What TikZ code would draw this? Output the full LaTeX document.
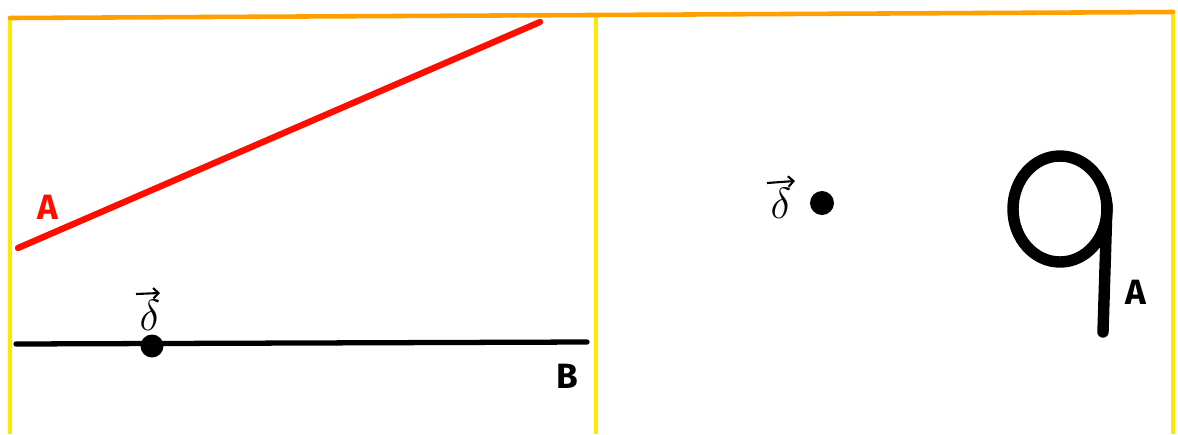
\documentclass[tikz,border=0pt]{standalone}
\usepackage{fontspec}
\setmainfont{Fira Sans}
\usetikzlibrary{arrows.meta}
\begin{document}
\begin{tikzpicture}[x=0.02cm,y=-0.02cm,
  frame/.style={draw=yellow!90!orange,line width=2.2pt},
  topedge/.style={draw=orange!75!yellow,line width=2.6pt,line cap=round},
  redline/.style={draw=red!90!orange,line width=3.6pt,line cap=round},
  blackline/.style={draw=black,line width=3pt,line cap=round},
  dot/.style={circle,fill=black,inner sep=0pt,minimum size=#1},
  lbl/.style={font=\fontsize{20}{22}\selectfont\bfseries,inner sep=0pt},
  vec/.style={font=\fontsize{24}{26}\selectfont,inner sep=0pt},
  vecarrow/.style={line width=1.2pt,-{Straight Barb[length=3pt,width=6pt]}}]
\useasboundingbox (0,0) rectangle (1178,434);
% frame
\coordinate (tl) at (10,18);
\coordinate (tm) at (596,15);
\coordinate (tr) at (1173,12);
\coordinate (bl) at (10,434);
\coordinate (bm) at (596,434);
\coordinate (br) at (1173,434);
\draw[frame] (tl) -- (bl);
\draw[frame] (tm) -- (bm);
\draw[frame] (tr) -- (br);
\draw[topedge] (tl) -- (tr);
% left panel
\coordinate (a1) at (18,248);
\coordinate (a2) at (540,22);
\draw[redline] (a1) -- (a2);
\node[lbl,text=red!90!orange] (A1) at (48,207) {A};
\coordinate (b1) at (16,344);
\coordinate (b2) at (587,342);
\draw[blackline] (b1) -- (b2);
\node[dot=0.46cm] (p1) at (152,346) {};
\node[vec] (v1) at (150,315) {$\delta$};
\coordinate (v1a) at (136,294);
\coordinate (v1b) at (160,293);
\draw[vecarrow] (v1a) -- (v1b);
\node[lbl] (B) at (567,376) {B};
% right panel
\node[dot=0.48cm] (p2) at (822,203) {};
\node[vec] (v2) at (781,203) {$\delta$};
\coordinate (v2a) at (767,183);
\coordinate (v2b) at (795,181);
\draw[vecarrow] (v2a) -- (v2b);
\draw[line width=6.5pt] (1060,209) ellipse [x radius=47, y radius=53];
\coordinate (s1) at (1107,205);
\coordinate (s2) at (1103,332);
\draw[line width=6.5pt,line cap=round] (s1) -- (s2);
\node[lbl] (A2) at (1136,292) {A};
\end{tikzpicture}
\end{document}
